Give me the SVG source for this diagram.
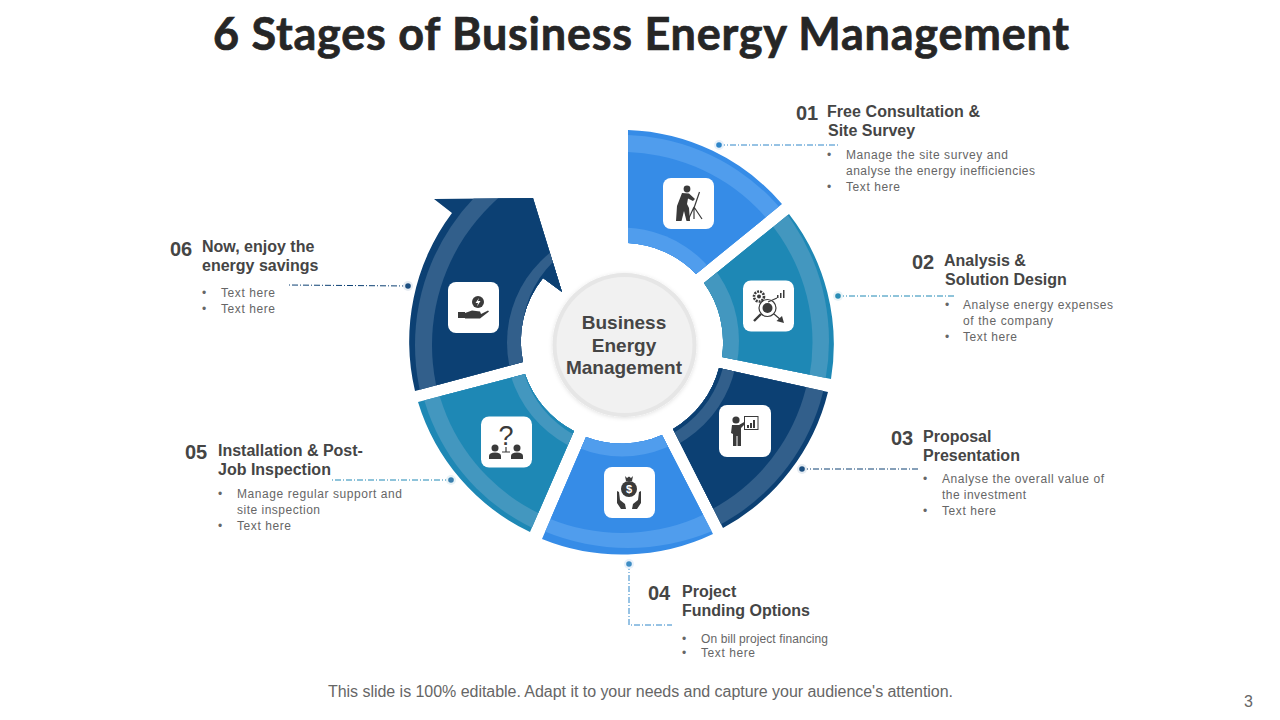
<svg xmlns="http://www.w3.org/2000/svg" width="1280" height="720" viewBox="0 0 1280 720">
<style>
text{font-family:"Liberation Sans",Arial,sans-serif}
.title{font-family:Lato,"Liberation Sans",sans-serif;font-weight:700;font-size:45px;fill:#262626;stroke:#262626;stroke-width:.7}
.num{font-weight:700;font-size:20px;fill:#454545}
.head{font-weight:700;font-size:16px;fill:#454545}
.body{font-size:12px;fill:#666}
.ctr{font-weight:700;font-size:19px;fill:#454545;text-anchor:middle}
.foot{font-size:16px;fill:#666}
.card{fill:#fff}
.ic{fill:#3a3a3a}
.icl{stroke:#3a3a3a;fill:none;stroke-width:1.2}
.lnk{fill:none;stroke-width:1;stroke-dasharray:6 2 1 2}
.blue{fill:#368ce7}.blueL{fill:#509ded}
.teal{fill:#1e88b5}.tealL{fill:#4397bf}
.navy{fill:#0c4073}.navyL{fill:#325f8b}
</style>
<defs>
<clipPath id="c1"><path d="M628,130A212.5,212.5 0 0 1 782,204L696,274A101,101 0 0 0 628,243Z"/></clipPath>
<clipPath id="c2"><path d="M789,214A212.5,212.5 0 0 1 831,379L722,357A101,101 0 0 0 704,283Z"/></clipPath>
<clipPath id="c3"><path d="M828,392A212.5,212.5 0 0 1 723,528L673,429A100,100 0 0 0 719,368Z"/></clipPath>
<clipPath id="c4"><path d="M713,534A212.5,212.5 0 0 1 542,539L586,437A100,100 0 0 0 662,435Z"/></clipPath>
<clipPath id="c5"><path d="M530,532A212.5,212.5 0 0 1 418,402L525,374A101,101 0 0 0 574,431Z"/></clipPath>
<clipPath id="c6"><path d="M415,391L523,362A101,101 0 0 1 543,278L562,292L533,198L434,199L452,213A214,214 0 0 0 415,391Z"/></clipPath>
<filter id="sh" x="-20%" y="-20%" width="140%" height="140%"><feDropShadow dx="0" dy="1" stdDeviation="2" flood-color="#000" flood-opacity=".12"/></filter>
</defs>
<rect width="1280" height="720" fill="#fff"/>
<text class="title" x="213" y="50" textLength="856" lengthAdjust="spacing">6 Stages of Business Energy Management</text>

<g id="connectors">
<path class="lnk" stroke="#2f86c9" d="M719,145H838"/><circle cx="719" cy="145" r="5" fill="#e8f1fb"/><circle cx="719" cy="145" r="2.8" fill="#2f86c9"/>
<path class="lnk" stroke="#1e88b5" d="M838,296H955"/><circle cx="838" cy="296" r="5" fill="#e8f3f7"/><circle cx="838" cy="296" r="2.8" fill="#2a8db5"/>
<path class="lnk" stroke="#0c4073" d="M802,469H920"/><circle cx="802" cy="469" r="5" fill="#e6ecf2"/><circle cx="802" cy="469" r="2.8" fill="#1c4f80"/>
<path class="lnk" stroke="#2f86c9" d="M629,564V625H672"/><circle cx="629" cy="564" r="5" fill="#e8f1fb"/><circle cx="629" cy="564" r="2.8" fill="#3f8dc4"/>
<path class="lnk" stroke="#1e88b5" d="M451,480H331"/><circle cx="451" cy="480" r="5" fill="#e8f3f7"/><circle cx="451" cy="480" r="2.8" fill="#3a7fae"/>
<path class="lnk" stroke="#0c4073" d="M408,286L288,285"/><circle cx="408" cy="286" r="5" fill="#e6ecf2"/><circle cx="408" cy="286" r="2.8" fill="#1c4f80"/>
</g>

<g id="seg1"><g clip-path="url(#c1)"><rect x="400" y="100" width="460" height="480" class="blue"/><circle cx="621" cy="345" r="210" class="blueL"/><circle cx="622" cy="342.5" r="190.5" class="blue"/><circle cx="622" cy="342.5" r="115" class="blueL"/></g>
<rect class="card" x="663" y="178" width="51" height="51" rx="8"/>
<circle class="ic" cx="687" cy="189" r="3.4"/><path class="ic" d="M682,193L689,193.500L695,199L693,201L688,198.500L687,204L689,208L690,221L686.500,221L684,211L681.500,221L676,221L677,206Z"/><path class="icl" d="M699.500,192L694,208M694,207L688.500,219M694,207V219M694,207L702,219"/></g>

<g id="seg2"><g clip-path="url(#c2)"><rect x="400" y="100" width="460" height="480" class="teal"/><circle cx="617" cy="341" r="212" class="tealL"/><circle cx="622" cy="342.500" r="190.500" class="teal"/><circle cx="621" cy="341" r="118" class="tealL"/></g>
<rect class="card" x="743" y="280.500" width="51" height="51" rx="8"/>
<circle cx="759" cy="296.500" r="5" fill="none" stroke="#3a3a3a" stroke-width="2.600" stroke-dasharray="2 1"/><circle class="ic" cx="759" cy="296.500" r="2"/>
<circle cx="767.500" cy="308" r="8.500" fill="none" stroke="#3a3a3a" stroke-width="1.200"/><circle class="ic" cx="767.500" cy="308" r="5"/>
<path class="ic" d="M777,298h1.500v-3h-1.500zM780,298h1.500v-5h-1.500zM783,298h1.500v-8h-1.500z"/><path class="icl" d="M768,302L777,298M774,314L781,320"/><path class="ic" d="M784,323L776.500,321L782,316Z"/><path d="M761,314L754,321" stroke="#3a3a3a" stroke-width="2.400"/></g>

<g id="seg3"><g clip-path="url(#c3)"><rect x="400" y="100" width="460" height="480" class="navy"/><circle cx="622" cy="342.500" r="207" class="navyL"/><circle cx="622" cy="342.500" r="189.500" class="navy"/><circle cx="622" cy="342.500" r="116" class="navyL"/><circle cx="622" cy="342.500" r="104" class="navy"/></g>
<rect class="card" x="719" y="405" width="52" height="52" rx="8"/>
<circle class="ic" cx="736" cy="420" r="3.600"/><path class="ic" d="M732,425H739L745,421.500L746,423L741,428V446H737.500V436H736.500V446H733V434L731,433Z"/><rect x="744.500" y="416.500" width="13.500" height="13" fill="#fff" stroke="#3a3a3a" stroke-width="1"/><path class="ic" d="M747,428h2v-3h-2zM750,428h2v-5h-2zM753,428h2v-8h-2z"/></g>

<g id="seg4"><g clip-path="url(#c4)"><rect x="400" y="100" width="460" height="480" class="blue"/><circle cx="628" cy="329" r="219" class="blueL"/><circle cx="622" cy="342.500" r="190.500" class="blue"/><circle cx="622" cy="342.500" r="114" class="blueL"/><circle cx="622" cy="338" r="105" class="blue"/><circle cx="622" cy="335" r="104" class="blueL"/></g>
<rect class="card" x="604" y="467" width="51" height="51" rx="8"/>
<path class="ic" d="M625,476L627,478L629,476.500L631,478L633,476L632,481H626Z"/><circle class="ic" cx="629" cy="489" r="8"/><text x="629" y="493" text-anchor="middle" font-size="11" font-weight="700" fill="#fff">$</text>
<path class="ic" d="M617,491L619,492L620,500L625,504L626,509H621L617,503ZM641,491L639,492L638,500L633,504L632,509H637L641,503Z"/></g>

<g id="seg5"><g clip-path="url(#c5)"><rect x="400" y="100" width="460" height="480" class="teal"/><circle cx="622" cy="342.500" r="206" class="tealL"/><circle cx="622" cy="342.500" r="190" class="teal"/><circle cx="622" cy="342.500" r="116" class="tealL"/><circle cx="623" cy="344" r="103" class="teal"/></g>
<rect class="card" x="481" y="416.500" width="51" height="51" rx="8"/>
<text x="506" y="445" text-anchor="middle" font-size="27" fill="#3a3a3a">?</text>
<circle class="ic" cx="495" cy="448" r="3.500"/><circle class="ic" cx="517" cy="448" r="3.500"/><path class="ic" d="M489,459V456Q489,452.500 495,452.500Q501,452.500 501,456V459ZM511,459V456Q511,452.500 517,452.500Q523,452.500 523,456V459Z"/><path class="icl" d="M506,447V452M502,452H510"/></g>

<g id="seg6"><g clip-path="url(#c6)"><rect x="400" y="100" width="460" height="480" class="navy"/><circle cx="628" cy="345" r="213" class="navyL"/><circle cx="628" cy="345" r="196" class="navy"/><circle cx="622" cy="342.500" r="115" class="navyL"/><circle cx="626" cy="336" r="104" class="navy"/></g>
<rect class="card" x="448" y="282" width="51" height="51" rx="8"/>
<circle class="ic" cx="478" cy="302" r="6"/><path fill="#fff" d="M479,298L475.500,303H478L477,306.500L480.500,301H478Z"/><rect class="ic" x="458" y="312" width="7" height="6"/><path class="ic" d="M465,313L472,310.500L480,311.500L481,314L488,310.500L489,311.500L480,318.500H465Z"/></g>

<g id="hub"><circle cx="624.500" cy="345" r="72" fill="#e6e6e6" filter="url(#sh)"/><circle cx="624.500" cy="345" r="68" fill="#f1f1f1"/>
<text class="ctr" x="624" y="329">Business</text><text class="ctr" x="624" y="352">Energy</text><text class="ctr" x="624" y="374">Management</text></g>

<g id="label1"><text class="num" x="796" y="120">01</text><text class="head" x="827" y="117" textLength="153">Free Consultation &amp;</text><text class="head" x="828" y="136">Site Survey</text>
<text class="body" x="827" y="159">•</text><text class="body" x="846" y="159" textLength="162">Manage the site survey and</text><text class="body" x="846" y="175" textLength="189">analyse the energy inefficiencies</text><text class="body" x="827" y="191">•</text><text class="body" x="846" y="191" textLength="54">Text here</text></g>
<g id="label2"><text class="num" x="912" y="269">02</text><text class="head" x="944" y="266">Analysis &amp;</text><text class="head" x="945" y="285">Solution Design</text>
<text class="body" x="945" y="309">•</text><text class="body" x="963" y="309" textLength="150">Analyse energy expenses</text><text class="body" x="963" y="325" textLength="90">of the company</text><text class="body" x="945" y="341">•</text><text class="body" x="963" y="341" textLength="54">Text here</text></g>
<g id="label3"><text class="num" x="891" y="445">03</text><text class="head" x="923" y="442">Proposal</text><text class="head" x="923" y="461">Presentation</text>
<text class="body" x="923" y="483">•</text><text class="body" x="942" y="483" textLength="162">Analyse the overall value of</text><text class="body" x="942" y="499" textLength="84">the investment</text><text class="body" x="923" y="515">•</text><text class="body" x="942" y="515" textLength="54">Text here</text></g>
<g id="label4"><text class="num" x="648" y="600">04</text><text class="head" x="682" y="597">Project</text><text class="head" x="682" y="616">Funding Options</text>
<text class="body" x="682" y="643">•</text><text class="body" x="701" y="643" textLength="127">On bill project financing</text><text class="body" x="682" y="657">•</text><text class="body" x="701" y="657" textLength="54">Text here</text></g>
<g id="label5"><text class="num" x="185" y="459">05</text><text class="head" x="218" y="456">Installation &amp; Post-</text><text class="head" x="218" y="475">Job Inspection</text>
<text class="body" x="218" y="498">•</text><text class="body" x="237" y="498" textLength="165">Manage regular support and</text><text class="body" x="237" y="514" textLength="83">site inspection</text><text class="body" x="218" y="530">•</text><text class="body" x="237" y="530" textLength="54">Text here</text></g>
<g id="label6"><text class="num" x="170" y="256">06</text><text class="head" x="202" y="252">Now, enjoy the</text><text class="head" x="202" y="271">energy savings</text>
<text class="body" x="202" y="297">•</text><text class="body" x="221" y="297" textLength="54">Text here</text><text class="body" x="202" y="313">•</text><text class="body" x="221" y="313" textLength="54">Text here</text></g>

<text class="foot" x="328" y="697" textLength="625">This slide is 100% editable. Adapt it to your needs and capture your audience's attention.</text>
<text class="foot" x="1244" y="707">3</text>
</svg>
